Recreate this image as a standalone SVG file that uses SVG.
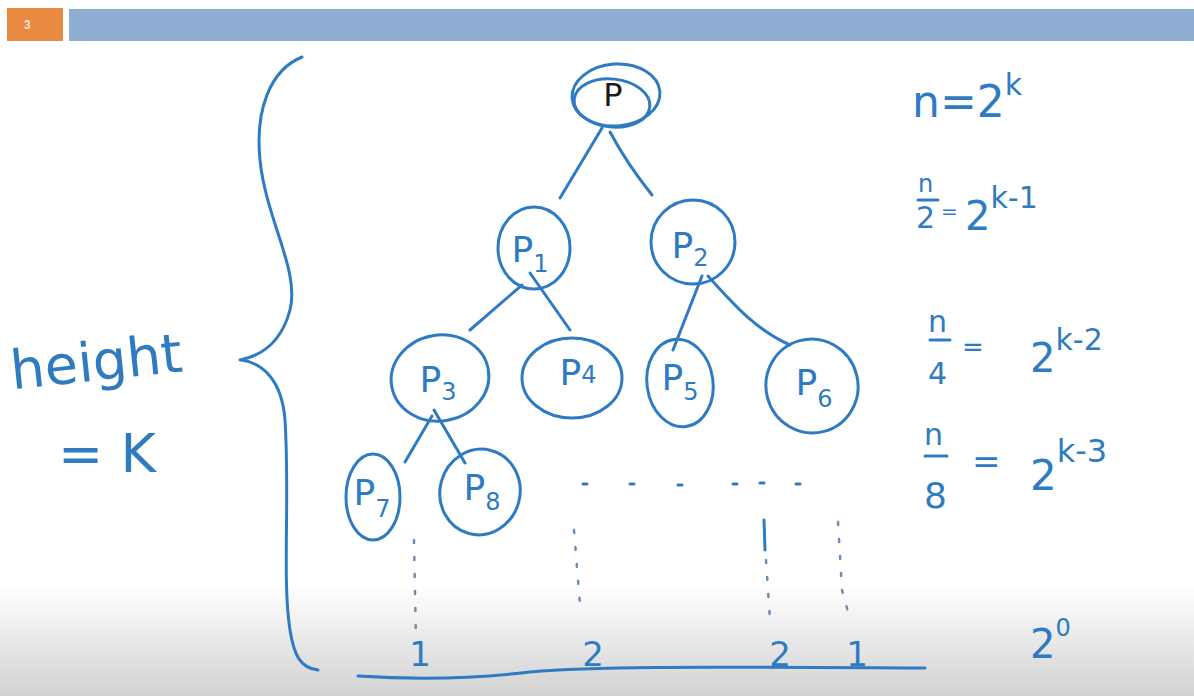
<svg xmlns="http://www.w3.org/2000/svg" width="1194" height="696" viewBox="0 0 1194 696">
<defs>
<linearGradient id="fade" x1="0" y1="0" x2="0" y2="1">
<stop offset="0" stop-color="#ffffff"/>
<stop offset="1" stop-color="#d2d2d2"/>
</linearGradient>
</defs>
<style>
.pen{fill:none;stroke:#2f7bc2;stroke-width:3;stroke-linecap:round;stroke-linejoin:round}
.dot{fill:none;stroke:#6a8fb5;stroke-width:2.5;stroke-linecap:round;stroke-dasharray:3 14}
.hw{fill:#2f7bc2;font-family:"DejaVu Sans","Liberation Sans",sans-serif}
.lbl{fill:#2f7bc2;font-family:"DejaVu Sans","Liberation Sans",sans-serif;font-size:36px;text-anchor:middle}
.sub{font-size:24px}
</style>
<rect width="1194" height="696" fill="#ffffff"/>
<rect x="0" y="585" width="1194" height="111" fill="url(#fade)"/>
<g id="header">
<rect x="7" y="8" width="56" height="33" fill="#e98a42"/>
<text x="24" y="29" font-family="Liberation Sans, sans-serif" font-size="12" font-weight="bold" fill="#fbe3cf">3</text>
<rect x="69" y="9" width="1125" height="32" fill="#8eaed3"/>
</g>
<g id="brace">
<path class="pen" d="M302,57 C270,70 255,110 260,160 C266,220 300,270 290,310 C282,340 265,355 240,360 C262,362 282,380 285,420 C290,500 282,580 290,630 C294,655 300,668 318,670"/>
</g>
<g id="height-label">
<text class="hw" x="10" y="380" font-size="54" transform="rotate(-6 100 360)">height</text>
<text class="hw" x="58" y="472" font-size="54">= K</text>
</g>
<g id="connectors">
<path class="pen" d="M602,128 L560,198"/>
<path class="pen" d="M610,132 C625,160 640,180 652,195"/>
<path class="pen" d="M522,285 L470,330"/>
<path class="pen" d="M530,273 L570,330"/>
<path class="pen" d="M702,276 L673,350"/>
<path class="pen" d="M708,276 C730,300 755,330 790,345"/>
<path class="pen" d="M432,416 L405,462"/>
<path class="pen" d="M434,410 L465,463"/>
</g>
<g id="node-P">
<ellipse class="pen" cx="616" cy="95" rx="44" ry="31" transform="rotate(-4 616 95)"/>
<ellipse class="pen" cx="612" cy="103" rx="38" ry="24" transform="rotate(6 612 103)"/>
<text x="613" y="106" font-family="DejaVu Sans, sans-serif" font-size="32" fill="#1a1a1a" text-anchor="middle">P</text>
</g>
<g id="node-P1">
<ellipse class="pen" cx="534" cy="248" rx="36" ry="41"/>
<text class="lbl" x="530" y="262">P<tspan class="sub" dy="10">1</tspan></text>
</g>
<g id="node-P2">
<ellipse class="pen" cx="693" cy="242" rx="42" ry="42"/>
<text class="lbl" x="690" y="258">P<tspan class="sub" dy="8">2</tspan></text>
</g>
<g id="node-P3">
<ellipse class="pen" cx="440" cy="378" rx="49" ry="43" transform="rotate(-10 440 378)"/>
<text class="lbl" x="438" y="392">P<tspan class="sub" dy="8">3</tspan></text>
</g>
<g id="node-P4">
<ellipse class="pen" cx="572" cy="378" rx="50" ry="40"/>
<text class="lbl" x="578" y="385">P<tspan class="sub" dy="-2">4</tspan></text>
</g>
<g id="node-P5">
<ellipse class="pen" cx="680" cy="383" rx="33" ry="44" transform="rotate(-8 680 383)"/>
<text class="lbl" x="680" y="390">P<tspan class="sub" dy="10">5</tspan></text>
</g>
<g id="node-P6">
<ellipse class="pen" cx="812" cy="386" rx="46" ry="47" transform="rotate(-15 812 386)"/>
<text class="lbl" x="814" y="395">P<tspan class="sub" dy="12">6</tspan></text>
</g>
<g id="node-P7">
<ellipse class="pen" cx="373" cy="497" rx="27" ry="43"/>
<text class="lbl" x="372" y="505">P<tspan class="sub" dy="12">7</tspan></text>
</g>
<g id="node-P8">
<ellipse class="pen" cx="480" cy="492" rx="40" ry="43" transform="rotate(15 480 492)"/>
<text class="lbl" x="482" y="500">P<tspan class="sub" dy="10">8</tspan></text>
</g>
<g id="dots">
<path class="pen" stroke-width="2.5" d="M583,484 h4 M630,484 h4 M678,485 h4 M733,484 h4 M760,483 h4 M796,484 h4"/>
<path class="dot" d="M414,540 L416,640"/>
<path class="dot" d="M574,530 L580,605"/>
<path class="pen" stroke-width="2" d="M764,520 L765,550"/>
<path class="dot" d="M766,560 L770,620"/>
<path class="dot" d="M838,522 L842,590 L848,612"/>
</g>
<g id="bottom">
<path class="pen" d="M358,676 C420,680 480,678 530,672 C600,666 700,667 925,668"/>
<text class="hw" x="420" y="666" font-size="34" text-anchor="middle">1</text>
<text class="hw" x="593" y="666" font-size="34" text-anchor="middle">2</text>
<text class="hw" x="780" y="666" font-size="34" text-anchor="middle">2</text>
<text class="hw" x="857" y="666" font-size="34" text-anchor="middle">1</text>
<text class="hw" x="1030" y="658" font-size="40">2<tspan font-size="24" dy="-22">0</tspan></text>
</g>
<g id="equations">
<text class="hw" x="912" y="117" font-size="44">n=2<tspan font-size="30" dy="-22">k</tspan></text>
<text class="hw" x="918" y="192" font-size="24">n</text>
<path class="pen" stroke-width="2" d="M918,200 h20"/>
<text class="hw" x="916" y="228" font-size="30">2</text>
<text class="hw" x="941" y="218" font-size="20">=</text>
<text class="hw" x="965" y="230" font-size="40">2<tspan font-size="30" dy="-22">k-1</tspan></text>
<text class="hw" x="928" y="332" font-size="30">n</text>
<path class="pen" stroke-width="2" d="M930,340 h20"/>
<text class="hw" x="928" y="384" font-size="30">4</text>
<text class="hw" x="962" y="356" font-size="26">=</text>
<text class="hw" x="1030" y="372" font-size="40">2<tspan font-size="30" dy="-22">k-2</tspan></text>
<text class="hw" x="924" y="445" font-size="30">n</text>
<path class="pen" stroke-width="2" d="M925,456 h22"/>
<text class="hw" x="924" y="508" font-size="36">8</text>
<text class="hw" x="972" y="473" font-size="34">=</text>
<text class="hw" x="1030" y="490" font-size="42">2<tspan font-size="32" dy="-28">k-3</tspan></text>
</g>
</svg>
